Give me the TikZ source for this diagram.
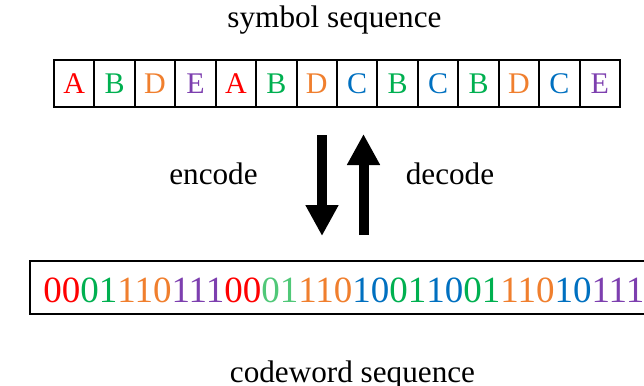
\documentclass[tikz,border=0pt]{standalone}
\usepackage{fontspec}
\setmainfont{Liberation Serif}
\usetikzlibrary{arrows.meta}
\definecolor{cA}{HTML}{FF0000}
\definecolor{cB}{HTML}{00B050}
\definecolor{cBl}{HTML}{50C878}
\definecolor{cC}{HTML}{0070C0}
\definecolor{cD}{HTML}{F07F2E}
\definecolor{cE}{HTML}{7D3FAF}
\begin{document}
\begin{tikzpicture}[x=0.5pt,y=-0.5pt,
  cell/.style={draw=black,line width=1pt,minimum width=20.215pt,minimum height=23.5pt,inner sep=0pt,font=\fontsize{15}{15}\selectfont},
  label/.style={inner sep=0pt,anchor=base,font=\fontsize{15.6}{16}\selectfont},
  bigarrow/.style={line width=5pt,-{Triangle[width=15.5pt,length=15.5pt]}}]
\useasboundingbox (0,0) rectangle (644,386);
\node[label] (title) at (334.5,27) {symbol sequence};
\foreach \s/\c [count=\i from 0] in {A/cA,B/cB,D/cD,E/cE,A/cA,B/cB,D/cD,C/cC,B/cB,C/cC,B/cB,D/cD,C/cC,E/cE}{
  \node[cell,text=\c] (s\i) at ({54+40.43*(\i+0.5)},83.5) {\vphantom{A}\s};
}
\coordinate (d1) at (322,135);
\coordinate (d2) at (322,236);
\coordinate (u1) at (363.5,235);
\coordinate (u2) at (363.5,134);
\draw[bigarrow] (d1) -- (d2);
\draw[bigarrow] (u1) -- (u2);
\node[label] (enc) at (213.5,184) {encode};
\node[label] (dec) at (450,184) {decode};
\begin{scope}
\clip (0,0) rectangle (644,386);
\draw[line width=1pt] (30,261) rectangle (660,314);
\end{scope}
\node[inner sep=0pt,anchor=base west,font=\fontsize{18.5}{18}\selectfont] (bits) at (43,302)
 {\textcolor{cA}{00}\textcolor{cB}{01}\textcolor{cD}{110}\textcolor{cE}{111}\textcolor{cA}{00}\textcolor{cBl}{01}\textcolor{cD}{110}\textcolor{cC}{10}\textcolor{cB}{01}\textcolor{cC}{10}\textcolor{cB}{01}\textcolor{cD}{110}\textcolor{cC}{10}\textcolor{cE}{111}};
\node[label] (cw) at (352.5,382) {codeword sequence};
\end{tikzpicture}
\end{document}
